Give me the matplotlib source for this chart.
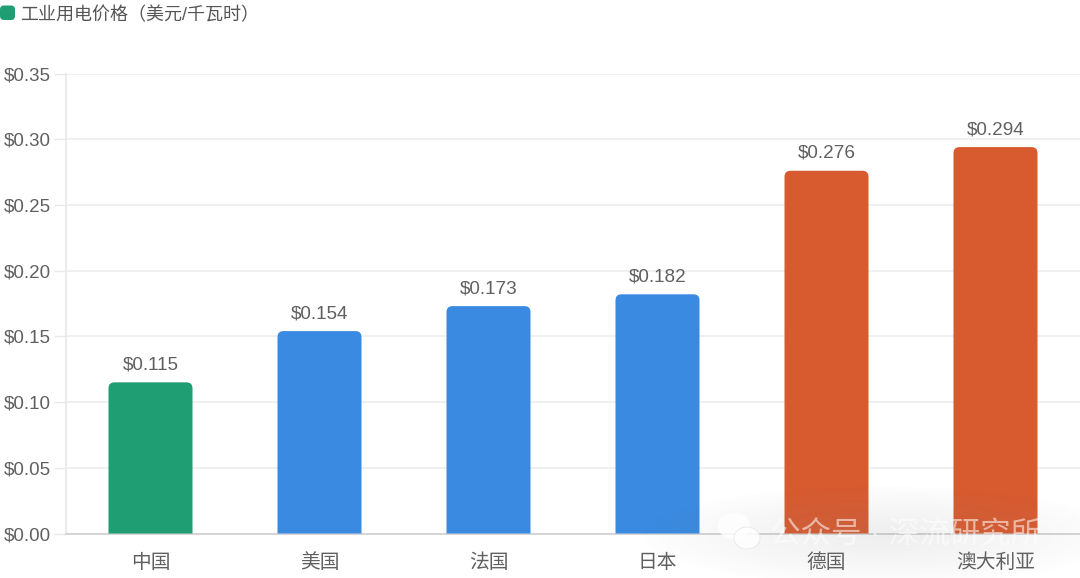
import numpy as np
import matplotlib
matplotlib.use("Agg")
import matplotlib.pyplot as plt
from matplotlib.path import Path
from matplotlib.patches import PathPatch, FancyBboxPatch, Ellipse

plt.rcParams['font.family'] = ['Liberation Sans', 'Noto Sans CJK SC', 'DejaVu Sans']

categories = ['中国', '美国', '法国', '日本', '德国', '澳大利亚']
values = [0.115, 0.154, 0.173, 0.182, 0.276, 0.294]
bar_colors = ['#1F9E74', '#398AE0', '#398AE0', '#398AE0', '#D85A2F', '#D85A2F']
y_ticks = [0.00, 0.05, 0.10, 0.15, 0.20, 0.25, 0.30, 0.35]
legend_label = '工业用电价格（美元/千瓦时）'
watermark = '公众号 · 深流研究所'

W, H = 1080, 578
fig = plt.figure(figsize=(W / 100, H / 100), dpi=100, facecolor='white')
L, R, T, B = 66, 1080, 73.5, 533.5
ax = fig.add_axes([L / W, 1 - B / H, (R - L) / W, (B - T) / H])
ax.set_xlim(-0.5, 5.5)
ax.set_ylim(0, 0.35)
ax.set_axisbelow(True)

ax.yaxis.grid(True, color='#EDEDED', lw=1.2)
ax.xaxis.grid(False)
for s in ('top', 'right'):
    ax.spines[s].set_visible(False)
ax.spines['left'].set_color('#E8E8E8')
ax.spines['left'].set_linewidth(1.2)
ax.spines['bottom'].set_color('#CFCFCF')
ax.spines['bottom'].set_linewidth(1.2)

ax.set_yticks(y_ticks)
ax.set_yticklabels([f'${v:.2f}' for v in y_ticks], fontsize=13.5, color='#606060')
ax.tick_params(axis='y', length=8.5, width=1.0, color='#E8E8E8', pad=2.5)
ax.set_xticks(range(len(categories)))
ax.set_xticklabels(categories, fontsize=14.2, color='#606060')
ax.tick_params(axis='x', length=0, pad=14)

BAR_W = 84 / 169
rx = 6 / ((R - L) / 6)
ry = 6 / ((B - T) / 0.35)


def rounded_top(xc, h, w):
    x0, x1 = xc - w / 2, xc + w / 2
    verts = [(x0, 0), (x0, h - ry), (x0, h), (x0 + rx, h), (x1 - rx, h),
             (x1, h), (x1, h - ry), (x1, 0), (x0, 0)]
    codes = [Path.MOVETO, Path.LINETO, Path.CURVE3, Path.CURVE3, Path.LINETO,
             Path.CURVE3, Path.CURVE3, Path.LINETO, Path.CLOSEPOLY]
    return Path(verts, codes)


for i, (v, c) in enumerate(zip(values, bar_colors)):
    ax.add_patch(PathPatch(rounded_top(i, v, BAR_W), facecolor=c, edgecolor='none', zorder=3))
    ax.annotate(f'${v:.3f}', (i, v), xytext=(0, 9), textcoords='offset pixels',
                ha='center', va='bottom', fontsize=13.6, color='#606060', zorder=4)

# legend
ov = fig.add_axes([0, 0, 1, 1], facecolor='none')
ov.set_xlim(0, W)
ov.set_ylim(H, 0)
ov.axis('off')
ov.add_patch(FancyBboxPatch((2.5, 8), 10, 9.5, boxstyle='round,pad=2.5,rounding_size=4',
                            facecolor=bar_colors[0], edgecolor='none'))
ov.text(20.5, 16, legend_label, fontsize=13, color='#555555', va='center', ha='left')

# watermark glow and text
yy, xx = np.mgrid[0:H, 0:W]
d = np.clip(1 - np.hypot((xx - 880) / 240, (yy - 535) / 50), 0, 1)
glow = np.zeros((H, W, 4))
glow[..., :3] = 0.5
glow[..., 3] = 0.13 * d ** 0.8
ov.imshow(glow, extent=(0, W, H, 0), aspect='auto', zorder=1)
ov.set_xlim(0, W)
ov.set_ylim(H, 0)
ov.add_patch(Ellipse((734, 526), 32, 27, facecolor='white', alpha=0.8, edgecolor='none', zorder=2))
ov.add_patch(Ellipse((747, 538), 26, 22, facecolor='white', alpha=0.85, edgecolor='#E4E4E4', lw=0.6, zorder=2))
ov.text(770, 536, watermark, fontsize=22, color='white', alpha=0.55, va='center', ha='left', zorder=3)

fig.savefig('out.png', dpi=100)
